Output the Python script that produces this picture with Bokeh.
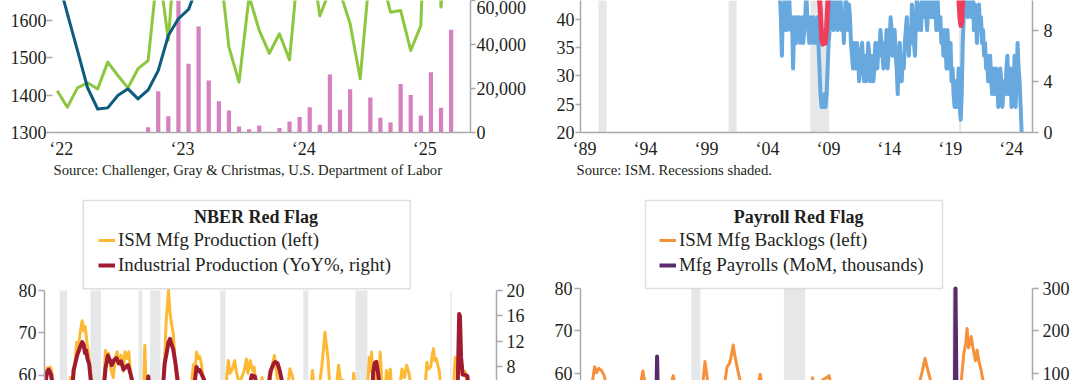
from bokeh.plotting import figure
from bokeh.models import (Range1d, LinearAxis, FixedTicker, NumeralTickFormatter,
                          BoxAnnotation, Label, Legend, LegendItem, Title)
from bokeh.layouts import row, column
from bokeh.embed import file_html
from bokeh.resources import INLINE

# ---------------- data ----------------
# Top-left: monthly from Jan 2022 (month index 0)
TL_TEAL = [1719, 1619, 1520, 1420, 1363, 1366, 1399, 1417, 1390, 1414, 1466, 1560, 1605, 1630, 1700]
TL_GREEN = [19000, 11500, 20300, 22600, 19800, 32000, 25900, 20300, 29000, 32700, 76800, 42000,
            102900, 77800, 89700, 67000, 80100, 38800, 22900, 62000, 46400, 36000, 44900, 33000,
            82300, 84600, 53000, 64800, 63800, 49400, 24400, 75900, 72800, 54700, 55500, 37300,
            48600, 172000, 57000, 105400]
TL_BAR_START = 9
TL_BARS = [2400, 18800, 7400, 70000, 31200, 48200, 23600, 14200, 10000, 2700, 1500, 3200, 0,
           2000, 5000, 7000, 11500, 3500, 26400, 10300, 19700, 0, 15900, 6700, 4500, 22100,
           17000, 7700, 27400, 11200, 46700]
TL_TICKS = [0.4, 12.4, 24.4, 36.4]
TL_TICK_LABELS = ["\u201822", "\u201823", "\u201824", "\u201825"]

# Top-right: blue monthly from Jun 2005 (right axis), red sparse (left axis)
TR_BLUE_START = 2005 + 5 / 12
TR_BLUE = [11, 9, 6, 10, 8, 11, 9,
           8, 10, 11, 9, 8, 9, 5, 8, 9, 7, 9, 8,
           9, 7, 8, 9, 7, 8, 9, 11, 9, 8, 7, 9,
           8, 7, 9, 8, 7, 8, 9, 7, 5, 3, 2, 2,
           2, 3, 2, 3, 5, 7, 8, 9, 11, 9, 8, 10,
           11, 9, 8, 9, 11, 10, 8, 9, 7, 9, 11, 9,
           8, 10, 9, 7, 6, 5, 7, 6, 5, 7, 6, 4,
           5, 6, 7, 5, 4, 6, 4, 5, 7, 6, 4, 5,
           6, 4, 5, 7, 6, 5, 7, 6, 8, 7, 6, 5,
           7, 6, 8, 5, 6, 7, 9, 8, 6, 7, 8, 6,
           5, 3, 6, 7, 5, 4, 6, 5, 7, 8, 9, 7,
           6, 8, 7, 10, 8, 7, 6, 9, 11, 8, 9, 10,
           8, 11, 9, 10, 11, 9, 8, 10, 11, 12, 9, 10,
           11, 9, 10, 8, 11, 9, 8, 9, 7, 8, 6, 8,
           7, 5, 8, 6, 5, 7, 4, 5, 3, 2, 4, 2,
           3, 5, 2, 1, 3, 7, 9, 11, 10, 11, 9, 10,
           11, 10, 9, 11, 8, 10, 9, 7, 9, 10, 8, 9,
           7, 8, 6, 7, 5, 6, 4, 5, 6, 4, 3, 5,
           4, 3, 5, 4, 2, 3, 5, 4, 2, 3, 4, 3,
           5, 6, 3, 4, 5, 2, 4, 3, 6, 2, 4, 7,
           5, 4, 2, 0]
TR_RED_X = [2005.4, 2008.5, 2008.72, 2008.85, 2008.95, 2009.05, 2009.15, 2009.25, 2009.38, 2009.6,
            2014.5, 2019.9, 2020.1, 2020.2, 2020.27, 2020.33, 2020.45, 2020.7, 2025.2]
TR_RED_Y = [52, 48, 42, 36.5, 35.6, 37.2, 35.8, 38.5, 44, 52,
            55, 48, 43.5, 40, 38.9, 39.5, 45, 55, 49]
TR_TICK_YEARS = [1989, 1994, 1999, 2004, 2009, 2014, 2019, 2024]
TR_TICK_LABELS = ["\u201889", "\u201894", "\u201899", "\u201804", "\u201809", "\u201814", "\u201819", "\u201824"]

REC_START = [1969.92, 1973.87, 1980.04, 1981.54, 1990.54, 2001.21, 2007.92, 2020.12]
REC_END = [1970.87, 1975.21, 1980.54, 1982.87, 1991.21, 2001.87, 2009.46, 2020.29]

# Bottom-left: ISM Mfg Production (left) and Industrial Production YoY% (right)
BL_YEL_X = [1968.0, 1968.3, 1968.5, 1968.7, 1968.9, 1969.2, 1970.0, 1971.0, 1971.3, 1971.6, 1971.9,
            1972.1, 1972.3, 1972.5, 1972.8, 1973.0, 1973.2, 1973.4, 1973.6, 1973.8, 1974.2, 1975.0,
            1975.5, 1975.65, 1975.8, 1976.0, 1976.2, 1976.5, 1976.8, 1977.1, 1977.3, 1977.5, 1977.8,
            1978.1, 1978.3, 1978.6, 1978.8, 1979.0, 1979.3, 1980.3, 1980.7, 1980.85, 1981.0, 1981.5,
            1982.9, 1983.2, 1983.4, 1983.6, 1983.9, 1984.1, 1984.3, 1984.5, 1984.8, 1985.1, 1986.5,
            1986.9, 1987.1, 1987.3, 1987.5, 1987.7, 1987.9, 1988.1, 1988.4, 1989.0, 1991.2, 1991.4,
            1991.6, 1991.8, 1992.1, 1992.4, 1992.6, 1993.0, 1993.6, 1993.9, 1994.1, 1994.4, 1994.7,
            1994.9, 1995.2, 1995.7, 1995.9, 1996.2, 1996.9, 1997.2, 1997.5, 1997.8, 1998.1, 1999.2,
            1999.5, 1999.8, 2000.1, 2002.2, 2002.4, 2002.6, 2003.3, 2003.6, 2003.8, 2004.0, 2004.2,
            2004.4, 2004.6, 2005.5, 2005.75, 2006.0, 2007.6, 2007.7, 2007.9, 2009.0, 2009.5, 2009.7,
            2009.85, 2010.0, 2010.2, 2010.4, 2010.7, 2011.0, 2011.1, 2011.3, 2011.8, 2011.9, 2012.1,
            2012.4, 2012.6, 2013.6, 2013.9, 2014.2, 2014.5, 2014.8, 2015.0, 2016.9, 2017.1, 2017.3,
            2017.6, 2017.8, 2017.96, 2018.1, 2018.3, 2018.5, 2018.7, 2018.9, 2020.3, 2020.6, 2020.75,
            2020.9, 2021.05, 2021.2, 2021.4, 2021.6, 2022.0, 2022.3, 2023.0, 2025.2]
BL_YEL_Y = [58, 61.8, 60.5, 62.0, 60.8, 57, 48, 55, 59.5, 57, 63.5,
            67.8, 65.5, 69.5, 72.9, 70.5, 71.5, 68, 65.5, 62, 55, 40,
            56, 61, 65.9, 63, 65.3, 61.5, 59.5, 64.5, 65.6, 62.5, 64.8,
            61, 65.6, 64, 65.6, 61, 55, 40, 56, 67.1, 58, 50,
            50, 58, 64, 72.9, 80.0, 74.5, 72, 70, 62, 55, 55,
            59, 62.5, 61, 65.5, 64, 64.5, 63, 58.5, 52, 52, 60,
            63.5, 60.5, 61.5, 63.5, 61, 58, 61, 63.9, 60.5, 63.5, 61.2,
            62, 57, 56, 59.5, 57, 58, 62, 64.7, 60.5, 56, 57,
            61.6, 60, 57, 57, 61.2, 57, 58, 62, 66, 70.2, 67,
            64, 58, 58, 62.4, 59, 58, 60.5, 56, 30, 58, 64.3,
            61, 65.5, 59.5, 62, 57, 61, 65.5, 59, 57, 61.2, 58,
            61.5, 56, 57, 61.5, 59.5, 62.4, 60.5, 58, 58, 63.1, 61.5,
            62, 65, 66.3, 63.5, 64, 62.5, 61, 57, 30, 60, 64.3,
            62, 63.5, 60, 61.5, 60.8, 61, 58, 50, 50]
BL_IP_X = [1968.0, 1968.3, 1968.5, 1968.8, 1969.0, 1970.5, 1971.5, 1971.7, 1972.0, 1972.2, 1972.5,
           1972.8, 1973.0, 1973.15, 1973.3, 1973.5, 1973.7, 1973.9, 1975.0, 1975.6, 1975.8, 1976.1,
           1976.4, 1976.6, 1976.9, 1977.2, 1977.5, 1977.8, 1978.1, 1978.4, 1978.7, 1979.0, 1979.4,
           1981.1, 1981.3, 1981.5, 1982.8, 1983.2, 1983.4, 1983.7, 1983.9, 1984.1, 1984.3, 1984.5,
           1984.8, 1985.0, 1985.5, 1987.2, 1987.5, 1987.7, 1987.9, 1988.3, 1988.8, 1994.3, 1994.6,
           1995.0, 1995.4, 1996.8, 1997.0, 1997.4, 1997.6, 1997.9, 1998.2, 1998.6, 2009.5, 2010.2,
           2010.4, 2010.6, 2010.8, 2011.0, 2020.3, 2021.0, 2021.25, 2021.35, 2021.5, 2021.7, 2022.0,
           2022.3, 2022.6, 2025.2]
BL_IP_Y = [5, 7.2, 7.6, 6.8, 5, -3, 4, 7.5, 9.0, 10.0, 11.0,
           11.9, 11.5, 10.2, 10.6, 9.2, 8.5, 6, -12, 5, 7.8, 9.8,
           9.0, 8.3, 9.1, 9.4, 8.6, 8.9, 7.6, 8.0, 8.3, 7.0, 5,
           4, 6.5, 4, -8, 5, 8.5, 10.5, 11.9, 12.4, 11.5, 10.8,
           8.5, 6.6, 2, 5, 8.0, 7.4, 7.5, 6.5, 5, 5, 6.7,
           6.5, 4, 5.5, 7.3, 8.5, 8.8, 8.6, 7.4, 5, -15, 7.2,
           8.6, 8.8, 7.3, 5.5, -16, 1, 16.3, 16.0, 9.5, 6.8, 6.8,
           6.6, 3, 1]

# Bottom-right: ISM Mfg Backlogs (left) and Mfg Payrolls MoM (right)
BR_ORG_X = [1993.2, 1994.0, 1994.2, 1994.35, 1994.5, 1994.7, 1994.9, 1995.2, 1997.4, 1997.7, 1997.9,
            1999.7, 1999.9, 2000.1, 2001.5, 2002.0, 2002.2, 2002.4, 2003.6, 2003.8, 2004.0, 2004.1,
            2004.25, 2004.35, 2004.5, 2004.6, 2004.9, 2006.0, 2006.2, 2006.4, 2009.0, 2010.0, 2010.1,
            2011.2, 2011.4, 2017.6, 2017.95, 2018.15, 2018.3, 2018.5, 2019.0, 2020.3, 2020.8, 2020.96,
            2021.1, 2021.2, 2021.3, 2021.4, 2021.5, 2021.6, 2021.68, 2021.8, 2021.93, 2022.05, 2022.2,
            2022.35, 2023.0, 2025.2]
BR_ORG_Y = [54, 57, 61.6, 60.2, 61.2, 60.7, 59.5, 55, 55, 60.6, 57,
            57, 59.5, 56, 40, 56, 62.8, 58, 57, 61.5, 62.5, 64,
            66.7, 64.5, 62, 60.5, 56, 56, 59.8, 56, 30, 59, 57,
            59.5, 56, 56, 60.5, 63.6, 61.5, 59, 52, 40, 59, 64.7,
            67, 70.6, 66, 67.3, 68.7, 66.5, 65.1, 63, 65.5, 62.9, 61,
            58.5, 45, 45]
BR_PAY_X = [1993.2, 1998.65, 1998.73, 1998.81, 2020.28, 2020.36, 2020.44, 2025.2]
BR_PAY_Y = [10, -20, 140, 10, -200, 300, 20, -10]

# ---------------- style ----------------
FONT = "Liberation Serif"
TEXT = "#231f20"
AXIS_GREY = "#a7a9ac"
REC_GREY = "#e6e7e8"
TEAL = "#0d5c7d"
GREEN = "#8dc63f"
PINK = "#d680c0"
BLUE = "#67a8df"
RED = "#ef3e5c"
YELLOW = "#fdb933"
DARKRED = "#a01b30"
ORANGE = "#f7903b"
PURPLE = "#5b2a6b"


def style_axis(ax, tick_out=6, standoff=1, ticks=True, line=True):
    ax.axis_line_color = AXIS_GREY if line else None
    ax.axis_line_width = 1.5
    ax.major_tick_line_color = AXIS_GREY if ticks else None
    ax.major_tick_line_width = 1.5
    ax.major_tick_out = tick_out
    ax.major_tick_in = 0
    ax.minor_tick_line_color = None
    ax.major_label_standoff = standoff
    ax.major_label_text_font = FONT
    ax.major_label_text_font_size = "18px"
    ax.major_label_text_color = TEXT


def base_fig(xr, yr, mbl, mbr, mbt, mbb, x_axis=True):
    kw = {}
    if not x_axis:
        kw["x_axis_location"] = None
    p = figure(width=540, height=190, x_range=xr, y_range=yr, output_backend="svg",
               toolbar_location=None, min_border_left=mbl, min_border_right=mbr,
               min_border_top=mbt, min_border_bottom=mbb, **kw)
    p.outline_line_color = None
    p.xgrid.visible = False
    p.ygrid.visible = False
    p.background_fill_color = "white"
    p.border_fill_color = "white"
    return p


def add_recessions(p, top=None, after=0):
    for s, e in zip(REC_START, REC_END):
        if s > after:
            p.add_layout(BoxAnnotation(left=s, right=e, top=top, fill_color=REC_GREY,
                                       fill_alpha=1, line_alpha=0, level="underlay"))


def source_title(p, offset, text):
    p.add_layout(Title(text=text, align="left", offset=offset, standoff=-4,
                       text_font=FONT, text_font_size="14.7px", text_font_style="normal",
                       text_color=TEXT), "below")


# ---------------- top-left ----------------
tl = base_fig(Range1d(-0.47, 40.92), Range1d(1300, 1653.9), 52, 70, 0, 58)
tl.extra_y_ranges = {"r": Range1d(0, 60000)}
bar_x = [TL_BAR_START + i for i in range(len(TL_BARS))]
tl.vbar(x=bar_x, top=TL_BARS, width=0.42, bottom=0, y_range_name="r",
        fill_color=PINK, line_color=None)
tl.line(list(range(len(TL_GREEN))), TL_GREEN, y_range_name="r", line_color=GREEN,
        line_width=3, line_join="round")
tl.line(list(range(len(TL_TEAL))), TL_TEAL, line_color=TEAL, line_width=3, line_join="round")
tl.yaxis.ticker = FixedTicker(ticks=[1300, 1400, 1500, 1600])
style_axis(tl.yaxis[0], tick_out=6, standoff=0, line=False)
tl_r = LinearAxis(y_range_name="r", ticker=FixedTicker(ticks=[0, 20000, 40000, 60000]),
                  formatter=NumeralTickFormatter(format="0,0"))
style_axis(tl_r, tick_out=5, standoff=1)
tl.add_layout(tl_r, "right")
tl.xaxis.ticker = FixedTicker(ticks=TL_TICKS)
tl.xaxis.major_label_overrides = dict(zip(TL_TICKS, TL_TICK_LABELS))
style_axis(tl.xaxis[0], tick_out=0, standoff=6, ticks=False)
source_title(tl, 1, "Source: Challenger, Gray & Christmas, U.S. Department of Labor")

# ---------------- top-right ----------------
tr = base_fig(Range1d(1989.065, 2026.14), Range1d(20, 43.3), 40, 48, 0, 58)
tr.extra_y_ranges = {"r": Range1d(0, 10.31)}
add_recessions(tr)
blue_x = [TR_BLUE_START + i / 12 for i in range(len(TR_BLUE))]
tr.line(blue_x, TR_BLUE, y_range_name="r", line_color=BLUE, line_width=4, line_join="round")
tr.line(TR_RED_X, TR_RED_Y, line_color=RED, line_width=5, line_join="round")
tr.yaxis.ticker = FixedTicker(ticks=[20, 25, 30, 35, 40])
style_axis(tr.yaxis[0], tick_out=5, standoff=1)
tr_r = LinearAxis(y_range_name="r", ticker=FixedTicker(ticks=[0, 4, 8]))
style_axis(tr_r, tick_out=6, standoff=5)
tr.add_layout(tr_r, "right")
tr_ticks = [y + 0.4 for y in TR_TICK_YEARS]
tr.xaxis.ticker = FixedTicker(ticks=tr_ticks)
tr.xaxis.major_label_overrides = dict(zip(tr_ticks, TR_TICK_LABELS))
style_axis(tr.xaxis[0], tick_out=0, standoff=6, ticks=False)
source_title(tr, -4, "Source: ISM. Recessions shaded.")


# ---------------- bottom panels ----------------
def legend_block(p, frame, title, items, leg_loc, box_px, title_px):
    # frame = (left_px, right_px, top_px, bottom_px) in page pixels
    fl, fr, ft, fb = frame
    xr, yr = p.x_range, p.y_range

    def dx(px):
        return xr.start + (px - fl) * (xr.end - xr.start) / (fr - fl)

    def dy(py):
        return yr.end - (py - ft) * (yr.end - yr.start) / (fb - ft)

    p.add_layout(BoxAnnotation(left=dx(box_px[0]), right=dx(box_px[1]),
                               top=dy(box_px[2]), bottom=dy(box_px[3]),
                               fill_color="white", fill_alpha=1, line_color="#939598",
                               line_width=1.5, level="annotation"))
    leg = Legend(items=items, location=leg_loc, orientation="vertical", padding=0, spacing=3,
                 margin=0, glyph_width=17, glyph_height=20, label_height=20, label_standoff=3,
                 label_text_font=FONT, label_text_font_size="18.9px", label_text_color=TEXT,
                 border_line_alpha=0, background_fill_alpha=0)
    p.add_layout(leg)
    p.add_layout(Label(x=dx(title_px[0]), y=dy(title_px[1]), text=title, text_font=FONT,
                       text_font_style="bold", text_font_size="18px", text_color=TEXT,
                       text_align="center", text_baseline="middle"))


# bottom-left: frame x 44..496, y 190..380 (80 at y=290)
bl = base_fig(Range1d(1967.96, 2026.05), Range1d(58.82, 103.53), 44, 44, 0, 0, x_axis=False)
bl.extra_y_ranges = {"r": Range1d(5.88, 35.69)}
add_recessions(bl, top=80)
r_yel = bl.line(BL_YEL_X, BL_YEL_Y, line_color=YELLOW, line_width=3, line_join="round")
r_ip = bl.line(BL_IP_X, BL_IP_Y, y_range_name="r", line_color=DARKRED, line_width=4,
               line_join="round")
bl.yaxis.ticker = FixedTicker(ticks=[20, 30, 40, 50, 60, 70, 80])
bl.yaxis.bounds = (58.82, 80)
style_axis(bl.yaxis[0], tick_out=6, standoff=2)
bl_r = LinearAxis(y_range_name="r", bounds=(5.88, 20),
                  ticker=FixedTicker(ticks=[-20, -16, -12, -8, -4, 0, 4, 8, 12, 16, 20]))
style_axis(bl_r, tick_out=6, standoff=4)
bl.add_layout(bl_r, "right")
legend_block(bl, (44, 496, 190, 380), "NBER Red Flag",
             [LegendItem(label="ISM Mfg Production (left)", renderers=[r_yel]),
              LegendItem(label="Industrial Production (YoY%, right)", renderers=[r_ip])],
             (54, 104), (82.7, 409.8, 200, 288.3), (255.6, 216.7))

# bottom-right: frame x 580..1032, y 190..380 (80 at y=288)
br = base_fig(Range1d(1993.18, 2025.94), Range1d(58.35, 103.06), 40, 48, 0, 0, x_axis=False)
br.extra_y_ranges = {"r": Range1d(83.5, 530.6)}
add_recessions(br, top=80, after=1993)
r_org = br.line(BR_ORG_X, BR_ORG_Y, line_color=ORANGE, line_width=3, line_join="round")
r_pay = br.line(BR_PAY_X, BR_PAY_Y, y_range_name="r", line_color=PURPLE, line_width=4,
                line_join="round")
br.yaxis.ticker = FixedTicker(ticks=[20, 30, 40, 50, 60, 70, 80])
br.yaxis.bounds = (58.35, 80)
style_axis(br.yaxis[0], tick_out=6, standoff=2)
br_r = LinearAxis(y_range_name="r", bounds=(83.5, 300),
                  ticker=FixedTicker(ticks=[-300, -200, -100, 0, 100, 200, 300]))
style_axis(br_r, tick_out=6, standoff=4)
br.add_layout(br_r, "right")
legend_block(br, (580, 1032, 190, 380), "Payroll Red Flag",
             [LegendItem(label="ISM Mfg Backlogs (left)", renderers=[r_org]),
              LegendItem(label="Mfg Payrolls (MoM, thousands)", renderers=[r_pay])],
             (79, 104), (645, 942, 200, 288), (798.2, 216.7))

layout = column(row(tl, tr), row(bl, br))
open("out.html", "w").write(file_html(layout, INLINE))
